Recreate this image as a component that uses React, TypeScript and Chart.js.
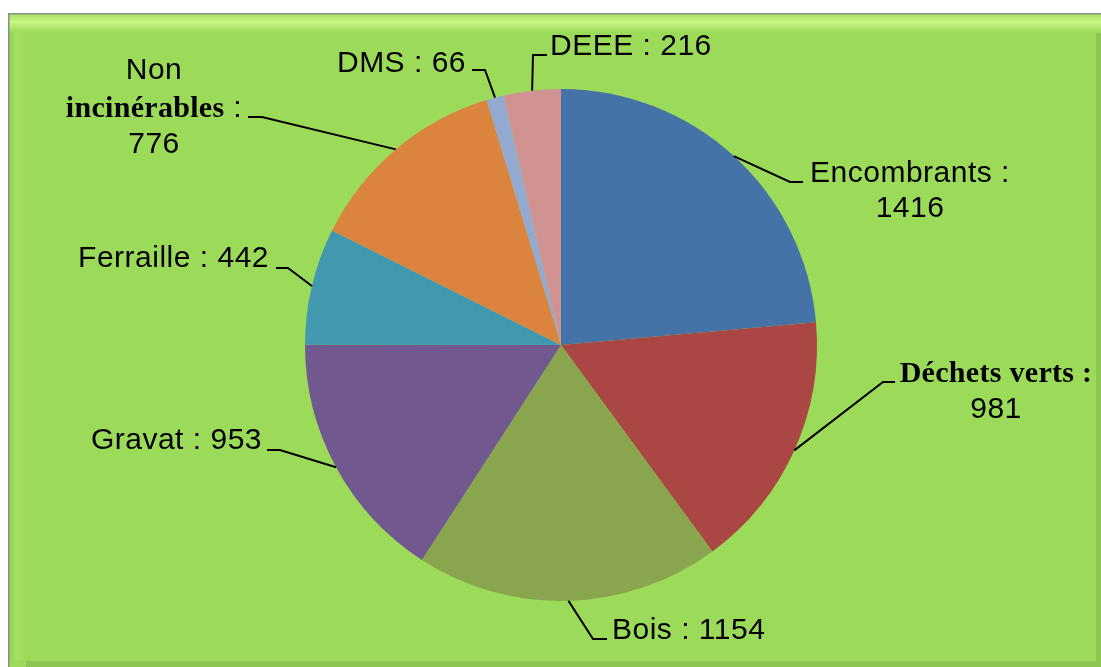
import React, { useEffect, useRef } from "react";
import { Chart, registerables } from "chart.js";

Chart.register(...registerables);

const categories = ["Encombrants", "Déchets verts", "Bois", "Gravat", "Ferraille", "Non incinérables", "DMS", "DEEE"];
const values = [1416, 981, 1154, 953, 442, 776, 66, 216];
const colors = ["#4572A7", "#AA4643", "#89A54E", "#71588F", "#4198AF", "#DB843D", "#93A9CF", "#D19392"];

const W = 1101;
const H = 667;
const SANS = "30px 'Liberation Sans', Arial, sans-serif";
const SERIF_B = "bold 30px 'Liberation Serif', 'Times New Roman', serif";

type Run = { t: string; f: string; ls: string };
type LabelLayout = {
  elbow: [number, number];
  end: [number, number];
  align: "left" | "right" | "center";
  x: number;
  baselines: number[];
  lines: Run[][];
};

const s = (t: string): Run => ({ t, f: SANS, ls: "0.5px" });
const b = (t: string): Run => ({ t, f: SERIF_B, ls: "0.3px" });

// Label placement (layout only; texts come from categories / values)
const labelLayouts: LabelLayout[] = [
  { elbow: [790, 182], end: [803, 182], align: "center", x: 910, baselines: [182, 217], lines: [[s(categories[0] + " :")], [s(String(values[0]))]] },
  { elbow: [883, 382], end: [895, 382], align: "center", x: 996, baselines: [382, 418], lines: [[b(categories[1] + " :")], [s(String(values[1]))]] },
  { elbow: [593, 639], end: [607, 639], align: "left", x: 612, baselines: [639], lines: [[s(categories[2] + " : " + values[2])]] },
  { elbow: [280, 450], end: [267, 450], align: "right", x: 262, baselines: [449], lines: [[s(categories[3] + " : " + values[3])]] },
  { elbow: [288, 268], end: [276, 268], align: "right", x: 269, baselines: [267], lines: [[s(categories[4] + " : " + values[4])]] },
  { elbow: [262, 117], end: [248, 117], align: "center", x: 154, baselines: [79, 117, 153], lines: [[s("Non")], [b("incinérables"), s(" :")], [s(String(values[5]))]] },
  { elbow: [485, 70], end: [472, 70], align: "right", x: 466, baselines: [72], lines: [[s(categories[6] + " : " + values[6])]] },
  { elbow: [533, 55], end: [547, 55], align: "left", x: 550, baselines: [55], lines: [[s(categories[7] + " : " + values[7])]] },
];

const framePlugin = {
  id: "frame",
  beforeDraw(chart: any) {
    const ctx = chart.ctx as CanvasRenderingContext2D;
    ctx.save();
    ctx.fillStyle = "#ffffff";
    ctx.fillRect(0, 0, W, H);
    const x0 = 8, y0 = 13;
    ctx.fillStyle = "#9CDB59";
    ctx.fillRect(x0, y0, W - x0, H - y0);
    const gt = ctx.createLinearGradient(0, y0 + 1, 0, y0 + 19);
    gt.addColorStop(0, "#A8E262");
    gt.addColorStop(0.45, "#C8F585");
    gt.addColorStop(1, "#9CDB59");
    ctx.fillStyle = gt;
    ctx.fillRect(x0 + 1, y0 + 1, W - x0 - 1, 18);
    const gl = ctx.createLinearGradient(x0 + 1, 0, x0 + 18, 0);
    gl.addColorStop(0, "#94D353");
    gl.addColorStop(0.4, "#A6E164");
    gl.addColorStop(1, "#9CDB59");
    ctx.fillStyle = gl;
    ctx.fillRect(x0 + 1, y0 + 19, 17, H - y0 - 26);
    ctx.fillStyle = "#8CC851";
    ctx.fillRect(W - 5, y0 + 20, 5, H - y0 - 20);
    ctx.fillRect(x0 + 18, H - 6, W - x0 - 18, 6);
    ctx.fillStyle = "#8C8C8C";
    ctx.fillRect(x0, y0, W - x0, 1.5);
    ctx.fillRect(x0, y0, 1.5, H - y0);
    ctx.restore();
  },
};

function setRun(ctx: CanvasRenderingContext2D, r: Run) {
  ctx.font = r.f;
  (ctx as any).letterSpacing = r.ls;
}

function runsWidth(ctx: CanvasRenderingContext2D, runs: Run[]) {
  let w = 0;
  for (const r of runs) {
    setRun(ctx, r);
    w += ctx.measureText(r.t).width;
  }
  return w;
}

const labelsPlugin = {
  id: "pieLabels",
  afterDraw(chart: any) {
    const ctx = chart.ctx as CanvasRenderingContext2D;
    const meta = chart.getDatasetMeta(0);
    ctx.save();
    meta.data.forEach((arc: any, i: number) => {
      const L = labelLayouts[i];
      if (!L) return;
      const p = arc.getProps(["x", "y", "startAngle", "endAngle", "outerRadius"], true);
      const mid = (p.startAngle + p.endAngle) / 2;
      const sx = p.x + Math.cos(mid) * p.outerRadius;
      const sy = p.y + Math.sin(mid) * p.outerRadius;
      ctx.strokeStyle = "#000000";
      ctx.lineWidth = 2;
      ctx.beginPath();
      ctx.moveTo(sx, sy);
      ctx.lineTo(L.elbow[0], L.elbow[1]);
      ctx.lineTo(L.end[0], L.end[1]);
      ctx.stroke();
      ctx.fillStyle = "#000000";
      ctx.textBaseline = "alphabetic";
      ctx.textAlign = "left";
      L.lines.forEach((runs, li) => {
        const w = runsWidth(ctx, runs);
        let x = L.x;
        if (L.align === "center") x = L.x - w / 2;
        else if (L.align === "right") x = L.x - w;
        for (const r of runs) {
          setRun(ctx, r);
          ctx.fillText(r.t, x, L.baselines[li]);
          x += ctx.measureText(r.t).width;
        }
      });
    });
    ctx.restore();
  },
};

export default function App() {
  const ref = useRef<HTMLCanvasElement | null>(null);
  useEffect(() => {
    if (!ref.current) return;
    const chart = new Chart(ref.current, {
      type: "pie",
      data: {
        labels: categories,
        datasets: [
          {
            data: values,
            backgroundColor: colors,
            borderWidth: 0,
            hoverOffset: 0,
            offset: 0,
          },
        ],
      },
      options: {
        responsive: false,
        animation: false,
        layout: { padding: { left: 305, right: 284, top: 89, bottom: 66 } },
        plugins: {
          legend: { display: false },
          tooltip: { enabled: false },
          title: { display: false },
        },
        events: [],
      },
      plugins: [framePlugin, labelsPlugin],
    });
    return () => chart.destroy();
  }, []);
  return (
    <div style={{ position: "absolute", left: 0, top: 0, width: W, height: H }}>
      <canvas ref={ref} width={W} height={H} style={{ display: "block", width: W, height: H }} />
    </div>
  );
}
